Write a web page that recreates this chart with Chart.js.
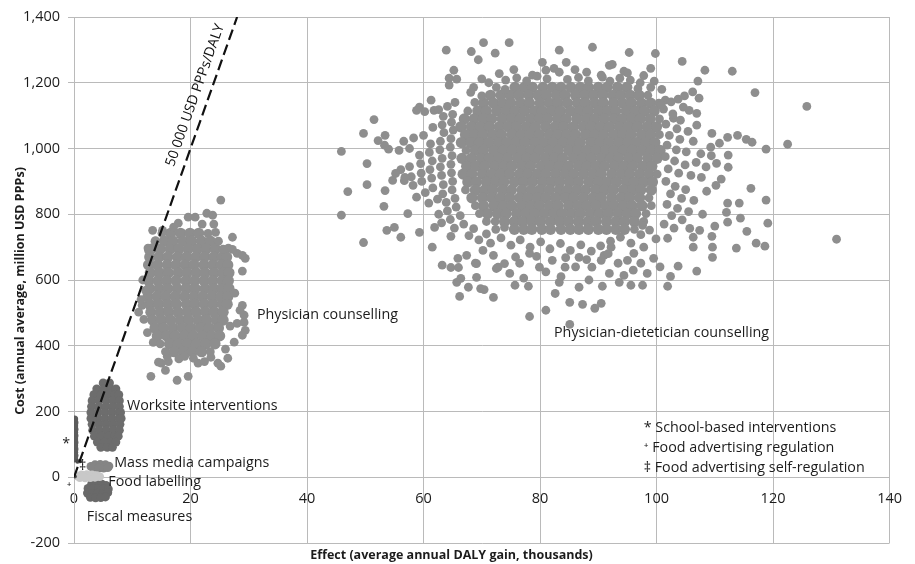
<!DOCTYPE html>
<html>
<head>
<meta charset="utf-8">
<script src="https://cdn.jsdelivr.net/npm/chart.js@4.4.0/dist/chart.umd.min.js"></script>
<style>
  html, body { margin: 0; padding: 0; background: #fff; }
  #wrap { width: 915px; height: 564px; position: relative; }
</style>
</head>
<body>
<div id="wrap"><canvas id="chartCea"></canvas></div>
<script>
// Effect in thousand DALYs per year, cost in million USD PPPs per year.
// Dense clouds are kept as rows: [cost, effect, effect, ...]; loose points as [effect, cost].

const effectAxis = { min: 0, max: 140, step: 20 };
const costAxis = { min: -200, max: 1400, step: 200 };

// willingness-to-pay threshold, USD PPPs per DALY
const wtpPerDaly = 50000;
const wtpEffect = [0, 28];

const dieteticianRows = [
  [1186, 75.7,77.3,78.7,80.5,82.1,83.6,85.3,86.9,88.3,90.0,91.5,93.3,94.9],
  [1162, 71.5,73.3,74.9,76.4,78.1,79.7,81.1,82.8,84.3,86.1,87.7,89.2,90.8,92.5,93.9,95.5,97.0],
  [1138, 70.3,72.0,73.6,75.0,76.7,78.2,80.0,81.6,83.1,84.7,86.4,87.8,89.4,90.9,92.6,94.2,95.7,97.4,99.0],
  [1114, 69.3,70.8,72.6,74.2,75.7,77.3,79.0,80.4,82.0,83.5,85.2,86.8,88.3,90.0,91.6,93.0,94.8,96.4,97.9,99.6],
  [1090, 67.0,68.7,70.3,71.7,73.5,75.1,76.6,78.3,79.9,81.3,83.0,84.5,86.3,87.9,89.4,91.0,92.7,94.1,95.7,97.2,98.9],
  [1066, 66.4,68.2,69.8,71.3,73.0,74.6,76.0,77.7,79.2,81.0,82.6,84.1,85.7,87.4,88.8,90.4,91.9,93.6,95.2,96.7,98.4,100.0],
  [1042, 67.2,68.8,70.2,71.9,73.4,75.2,76.8,78.3,79.9,81.6,83.0,84.6,86.1,87.8,89.4,90.9,92.6,94.2,95.6,97.4,99.0],
  [1018, 66.5,68.1,69.6,71.2,72.9,74.3,75.9,77.4,79.1,80.7,82.2,83.9,85.5,86.9,88.7,90.3,91.8,93.5,95.1,96.5,98.2,99.7],
  [994, 68.9,70.3,72.1,73.7,75.2,76.9,78.5,79.9,81.6,83.1,84.9,86.5,88.0,89.6,91.3,92.7,94.3,95.8,97.5,99.1,100.6],
  [970, 66.6,68.2,69.9,71.3,72.9,74.4,76.1,77.7,79.2,80.9,82.5,83.9,85.7,87.3,88.8,90.5,92.1,93.5,95.2,96.7,98.5,100.1],
  [946, 67.4,69.0,70.5,72.2,73.8,75.2,76.9,78.4,80.2,81.8,83.3,84.9,86.6,88.0,89.6,91.1,92.8,94.4,95.9,97.6,99.2],
  [922, 66.8,68.3,70.1,71.7,73.2,74.8,76.5,77.9,79.5,81.0,82.7,84.3,85.8,87.5,89.1,90.5,92.3,93.9,95.4,97.1,98.7],
  [898, 67.6,69.1,70.8,72.4,73.8,75.6,77.2,78.7,80.4,82.0,83.4,85.1,86.6,88.4,90.0,91.5,93.1,94.8,96.2,97.8,99.3],
  [874, 68.9,70.5,71.9,73.6,75.1,76.9,78.5,80.0,81.6,83.3,84.7,86.3,87.8,89.5,91.1,92.6,94.3,95.9,97.3,99.1],
  [850, 68.3,70.1,71.7,73.2,74.8,76.5,77.9,79.5,81.0,82.7,84.3,85.8,87.5,89.1,90.5,92.3,93.9,95.4,97.1],
  [826, 70.3,72.1,73.7,75.2,76.9,78.5,79.9,81.6,83.1,84.9,86.5,88.0,89.6,91.3,92.7,94.3,95.8,97.5],
  [802, 71.0,72.7,74.2,76.0,77.6,79.1,80.7,82.4,83.8,85.4,86.9,88.6,90.2,91.7,93.4,95.0,96.4],
  [778, 73.9,75.6,77.0,78.6,80.1,81.8,83.4,84.9,86.6,88.2,89.6,91.4,93.0,94.5,96.2],
  [754, 75.6,77.2,78.6,80.3,81.8,83.6,85.2,86.7,88.3,90.0,91.4,93.0,94.5]
];

const dieteticianSpread = [
  // upper fringe
  [63.9,1299],[68.2,1295],[70.3,1322],[72.3,1290],[74.7,1322],[69.4,1270],[83.3,1299],[89.0,1308],[95.3,1292],[99.8,1289],
  [104.4,1265],[108.3,1238],[113.0,1235],[99.0,1244],[94.4,1235],[92.4,1256],[90.7,1217],[107.1,1205],[116.9,1170],[125.8,1128],
  [65.2,1238],[64.4,1214],[65.7,1211],[64.4,1193],[68.6,1186],[68.1,1171],[78.7,1223],[80.4,1262],[81.0,1238],[82.4,1244],
  [83.3,1232],[90.5,1223],[91.9,1253],[74.1,1208],[76.0,1215],[77.7,1206],[79.5,1220],[81.2,1212],[84.7,1210],[86.6,1216],
  [88.3,1206],[92.0,1205],[93.7,1214],[95.5,1208],[97.2,1200],[71.2,1200],[86.0,1240],[88.0,1232],[95.0,1230],[97.8,1222],
  [75.5,1240],[73.0,1228],[84.5,1262],[70.0,1212],[99.6,1205],[100.9,1180],[99.0,1186],[72.5,1186],[74.0,1180],[96.8,1182],
  [98.5,1162],[70.0,1160],[68.8,1140],[100.4,1138],
  // left wing
  [61.3,1147],[59.3,1126],[61.8,1116],[58.8,1116],[65.4,1140],[64.1,1128],[62.6,1118],[65.0,1104],[63.4,1098],[60.2,1112],
  [64.8,1080],[63.2,1072],[61.6,1064],[65.1,1056],[63.5,1048],[60.0,1040],[58.3,1032],[56.6,1022],[64.7,1030],[62.9,1022],
  [61.2,1014],[57.6,1000],[55.8,994],[54.0,998],[53.3,1010],[64.6,1004],[62.8,996],[61.0,988],[59.3,980],[64.9,978],
  [63.2,970],[61.5,962],[59.5,954],[57.6,945],[56.1,936],[55.2,924],[64.7,952],[62.9,944],[61.1,936],[59.6,925],
  [57.9,914],[56.7,902],[64.8,926],[63.1,918],[61.4,910],[59.7,900],[58.2,888],[65.0,900],[63.4,890],[61.6,880],
  [60.3,866],[58.8,852],[64.9,874],[63.3,862],[62.4,846],[60.9,834],[65.4,848],[63.9,836],[64.1,810],[62.6,800],
  [65.6,822],[66.3,796],[64.6,784],[63.1,774],[61.9,760],[66.9,770],[65.3,758],[59.3,745],[57.3,802],[55.0,760],
  [53.7,751],[56.1,730],[61.5,700],[64.7,733],[53.4,872],[54.7,903],[56.8,912],[53.2,824],[51.5,1088],[49.7,1046],
  [52.2,1024],[53.4,1040],[45.9,991],[50.3,954],[47.0,869],[50.3,890],[45.9,797],[49.7,714],[67.6,1114],[67.3,994],
  [67.2,874],[68.9,826],[69.6,802],[70.8,778],
  // right wing
  [101.5,1147],[103.7,1150],[107.3,1153],[104.6,1126],[105.6,1116],[106.9,1107],[102.9,1092],[106.9,1071],[109.5,1046],[112.2,1034],
  [113.9,1040],[115.4,1028],[116.4,1019],[118.8,998],[122.5,1013],[112.3,980],[110.3,955],[112.3,943],[111.1,907],[116.2,879],
  [118.8,843],[114.2,834],[112.2,834],[112.0,806],[114.4,788],[119.1,773],[112.2,776],[115.5,748],[110.0,764],[109.5,733],
  [105.7,757],[107.4,751],[106.3,730],[117.1,712],[118.6,703],[113.7,697],[109.6,700],[109.6,669],[106.3,700],[101.9,727],
  [103.7,642],[106.9,627],[102.4,611],[130.9,724],
  [101.2,1120],[102.8,1105],[104.1,1086],[101.6,1074],[103.5,1060],[105.4,1052],[102.2,1040],[104.0,1028],[106.3,1022],[101.8,1010],
  [103.4,996],[105.1,990],[107.6,984],[109.4,978],[101.5,975],[103.1,962],[104.9,950],[106.8,958],[108.5,944],[102.0,938],
  [103.8,925],[105.9,918],[107.7,912],[101.6,900],[103.2,885],[105.0,875],[102.4,862],[104.3,848],[106.4,842],[101.8,830],
  [103.6,818],[105.5,808],[107.9,800],[102.6,796],[104.4,783],[101.3,770],[103.0,758],[108.6,870],[110.2,888],[109.3,1004],
  [110.8,1016],[100.8,1132],[102.5,1142],[104.8,1160],[106.2,1172],[100.5,1090],[100.5,1042],[100.1,922],[98.7,850],[99.1,826],
  [98.2,802],[97.8,778],
  // lower fringe
  [63.2,645],[64.7,638],[66.0,638],[67.4,675],[69.1,650],[72.5,635],[72.0,675],[74.8,620],[65.7,593],[66.2,550],
  [67.7,578],[69.8,574],[70.4,571],[72.0,547],[75.7,584],[78.0,581],[78.2,489],[81.0,508],[82.6,559],[83.3,593],
  [85.1,532],[86.7,578],[87.3,526],[85.1,465],[89.4,514],[90.5,529],[90.7,581],[95.6,584],[97.6,584],[101.9,581],
  [93.6,593],[65.9,666],[68.9,651],[72.8,639],[76.5,651],[78.2,681],[79.9,639],[82.1,660],[84.3,639],[86.7,669],
  [88.9,639],[90.5,660],[69.1,608],[66.4,605],[91.0,675],[93.4,651],[94.4,614],[97.3,651],[99.5,666],[96.1,681],
  [92.2,700],[97.8,700],[67.8,735],[69.5,722],[70.8,740],[71.5,712],[73.3,728],[75.0,706],[76.6,722],[78.3,700],
  [80.1,716],[81.7,695],[83.5,711],[85.2,690],[87.0,707],[88.8,688],[90.4,704],[92.1,718],[93.8,730],[95.6,712],
  [97.3,738],[98.8,752],[99.9,725],[68.6,756],[97.6,766],[84.4,668],[88.0,662],[79.4,672],[91.7,680],[75.8,670],
  [70.2,690],[73.9,650],[95.0,660],[86.1,640],[81.0,625],[77.2,606],[91.9,620],[83.6,610],[88.4,600],[98.4,620],
  [100.6,640],[96.0,630],[72.4,754],[73.9,760],[96.2,754],[72.3,778]
];

const physicianRows = [
  [742, 16.6,18.3,19.9,21.4],
  [718, 15.5,17.0,18.7,20.2,21.9,23.4],
  [694, 13.3,14.8,16.5,18.0,19.6,21.2,22.7,24.3],
  [670, 13.0,14.6,16.1,17.8,19.3,20.9,22.4,24.0,25.5,26.2],
  [646, 12.8,14.3,16.0,17.5,19.1,20.6,22.3,23.8,25.3,26.4],
  [622, 13.1,14.7,16.2,17.9,19.4,21.0,22.5,24.1,25.6,26.6],
  [598, 12.8,14.4,15.9,17.5,19.2,20.7,22.3,23.8,25.4,26.5],
  [574, 13.0,14.6,16.1,17.7,19.3,20.8,22.5,24.0,25.5,26.6],
  [550, 12.7,14.3,15.8,17.4,19.0,20.6,22.1,23.7,25.2,26.4],
  [526, 13.0,14.5,16.1,17.6,19.3,20.8,22.4,23.9,25.5,26.3],
  [502, 13.2,14.8,16.3,17.9,19.5,21.0,22.6,24.1,25.6],
  [478, 13.5,15.0,16.6,18.2,19.7,21.3,22.8,24.4,25.6],
  [454, 13.9,15.4,17.0,18.6,20.1,21.7,23.2,24.8],
  [430, 14.3,15.9,17.4,19.0,20.5,22.1,23.6,25.0],
  [406, 16.4,17.9,19.5,21.0,22.6,24.2],
  [382, 17.2,18.8,20.3,21.9]
];

const physicianSpread = [
  [25.2,843],[22.8,803],[23.8,797],[19.6,791],[20.8,791],[17.9,773],[17.1,761],[13.5,751],[15.2,751],[12.7,697],
  [26.5,697],[28.0,681],[29.4,666],[24.3,745],[27.2,693],[28.9,675],[28.9,627],[12.8,690],[11.7,523],[11.1,502],
  [12.3,568],[11.8,600],[28.9,523],[29.2,493],[29.2,471],[29.4,447],[28.9,432],[28.5,508],[28.0,468],[27.5,411],
  [13.2,307],[17.7,295],[19.6,307],[15.0,347],[16.2,352],[21.3,347],[22.4,352],[25.2,338],[26.4,362],[14.5,350],
  [15.7,325],[24.7,347],[11.5,540],[12.0,480],[26.8,460],[27.6,560],[22.0,770],[24.0,770],[16.0,368],[18.0,360],
  [13.6,410],[12.6,440],[26.0,390],[23.5,365],[27.2,730],[14.0,720],[19.0,368],[20.5,362],[15.1,742],[23.0,742],
  [13.9,718],[24.8,718],[25.6,694],[14.8,406],[15.7,382],[23.4,382]
];

const worksiteRows = [
  [287, 5.0,6.1],
  [269, 3.9,5.1,6.3,7.2],
  [251, 3.4,4.6,5.8,7.0,7.7],
  [233, 3.1,4.3,5.5,6.7,7.8],
  [215, 3.0,4.2,5.4,6.6,7.8],
  [197, 2.9,4.1,5.3,6.5,7.7,8.0],
  [179, 2.9,4.1,5.3,6.5,7.7,8.1],
  [161, 3.1,4.3,5.5,6.7,7.9],
  [143, 3.2,4.4,5.6,6.8,7.8],
  [125, 3.5,4.7,5.9,7.0,7.6],
  [107, 4.0,5.2,6.3,7.2],
  [91, 4.6,5.7,6.6]
];

const schoolPoints = [
  [0.1,56],[0.15,66],[0.1,76],[0.15,86],[0.1,96],[0.15,106],[0.1,116],
  [0.15,126],[0.1,136],[0.15,146],[0.1,156],[0.15,166],[0.1,177]
];

const massMediaPoints = [
  [2.9,33],[3.6,38],[4.5,39],[5.4,38],[6.0,34],[3.3,29],[4.2,28],[5.1,28],[5.8,29]
];

const foodLabelPoints = [
  [0.5,4],[1.3,7],[2.2,8],[3.1,7],[3.9,5],[4.4,2],[1.0,-1],[1.9,-2],[2.8,-1],[3.6,0]
];

const fiscalPoints = [
  [3.0,-22],[3.9,-20],[4.8,-21],[5.5,-25],[2.4,-34],[3.3,-35],[4.2,-34],[5.1,-35],[5.9,-36],
  [2.3,-48],[3.2,-49],[4.1,-48],[5.0,-49],[5.8,-47],[2.8,-61],[3.7,-63],[4.6,-62],[5.4,-60]
];

const adSelfRegPoints = [[0.6,48],[1.0,49]];
const adRegPoints = [[0.15,2]];

const clusterLabels = [
  { text: 'Physician counselling', x: 31.4, y: 493 },
  { text: 'Physician-dietetician counselling', x: 82.4, y: 438 },
  { text: 'Worksite interventions', x: 9.1, y: 216 },
  { text: 'Mass media campaigns', x: 6.9, y: 43 },
  { text: 'Food labelling', x: 5.9, y: -15 },
  { text: 'Fiscal measures', x: 2.2, y: -122 }
];

const symbolLabels = [
  { text: '*', x: -1.35, y: 100 },
  { text: '\u207A', x: -0.85, y: -30 },
  { text: '\u2021', x: 1.5, y: 33 }
];

const keyLines = [
  '* School-based interventions',
  '\u207A Food advertising regulation',
  '\u2021 Food advertising self-regulation'
];
const keyAt = { x: 97.8, y: [149, 88, 27] };

const wtpLabelAt = { x: 20.8, y: 1162 };

// --- helpers ---
const fromRows = rows => rows.flatMap(([y, ...xs]) => xs.map(x => ({ x, y })));
const toPts = list => list.map(([x, y]) => ({ x, y }));
const wtpLine = wtpEffect.map(e => ({ x: e, y: e * 1000 * wtpPerDaly / 1e6 }));

const fontFamily = "'Open Sans', 'DejaVu Sans', sans-serif";
const gridColor = '#bababa';
const inkColor = '#1c1c1c';
const cloudGray = '#8e8e8e';

// the packed rows sit under the loose dots, a larger dot keeps the mass closed
const cloud = (label, data, color, radius = 4.4) => ({
  label, data, backgroundColor: color, borderWidth: 0, pointBorderWidth: 0,
  pointRadius: radius, pointHoverRadius: radius
});

const labelsPlugin = {
  id: 'ceaLabels',
  afterDatasetsDraw(chart) {
    const { ctx, chartArea, scales: { x, y } } = chart;
    ctx.save();
    ctx.fillStyle = inkColor;
    ctx.textBaseline = 'middle';

    ctx.font = `14.3px ${fontFamily}`;
    ctx.textAlign = 'left';
    clusterLabels.forEach(l => ctx.fillText(l.text, x.getPixelForValue(l.x), y.getPixelForValue(l.y)));
    keyLines.forEach((t, i) => ctx.fillText(t, x.getPixelForValue(keyAt.x), y.getPixelForValue(keyAt.y[i])));

    ctx.textAlign = 'center';
    symbolLabels.forEach(l => ctx.fillText(l.text, x.getPixelForValue(l.x), y.getPixelForValue(l.y)));

    // threshold label runs along the dashed line
    const p0 = wtpLine[0], p1 = wtpLine[wtpLine.length - 1];
    const angle = Math.atan2(
      y.getPixelForValue(p1.y) - y.getPixelForValue(p0.y),
      x.getPixelForValue(p1.x) - x.getPixelForValue(p0.x)
    );
    ctx.save();
    ctx.translate(x.getPixelForValue(wtpLabelAt.x), y.getPixelForValue(wtpLabelAt.y));
    ctx.rotate(angle);
    ctx.font = `14px ${fontFamily}`;
    ctx.fillStyle = '#111';
    ctx.fillText('50 000 USD PPPs/DALY', 0, 0);
    ctx.restore();

    // cost axis title, sits a little below the middle of the plot
    ctx.save();
    ctx.translate(20, (chartArea.top + chartArea.bottom) / 2 + 11);
    ctx.rotate(-Math.PI / 2);
    ctx.font = `bold 12.5px ${fontFamily}`;
    ctx.fillText('Cost (annual average, million USD PPPs)', 0, 0);
    ctx.restore();

    ctx.restore();
  }
};

new Chart(document.getElementById('chartCea'), {
  type: 'scatter',
  data: {
    datasets: [
      {
        label: '50 000 USD PPPs/DALY', data: wtpLine, showLine: true,
        borderColor: '#111', borderWidth: 2.2, borderDash: [11, 5], pointRadius: 0, fill: false
      },
      cloud('Food advertising self-regulation', toPts(adSelfRegPoints), '#4a4a4a', 2.2),
      cloud('Food advertising regulation', toPts(adRegPoints), '#4a4a4a', 2),
      cloud('Food labelling', toPts(foodLabelPoints), '#c8c8c8'),
      cloud('Mass media campaigns', toPts(massMediaPoints), '#858585'),
      cloud('Fiscal measures', toPts(fiscalPoints), '#696969'),
      cloud('School-based interventions', toPts(schoolPoints), '#5c5c5c', 3.6),
      cloud('Worksite interventions', fromRows(worksiteRows), '#6d6d6d'),
      cloud('Physician counselling', toPts(physicianSpread), cloudGray),
      cloud('Physician counselling (core)', fromRows(physicianRows), cloudGray, 5.6),
      cloud('Physician-dietetician counselling', toPts(dieteticianSpread), cloudGray),
      cloud('Physician-dietetician counselling (core)', fromRows(dieteticianRows), cloudGray, 5.6)
    ]
  },
  options: {
    responsive: true,
    maintainAspectRatio: false,
    animation: false,
    events: [],
    layout: { padding: { top: 17, right: 12, bottom: 1.5, left: 0 } },
    plugins: {
      legend: { display: false },
      tooltip: { enabled: false },
      title: {
        display: true,
        position: 'bottom',
        text: 'Effect (average annual DALY gain, thousands)',
        color: inkColor,
        font: { family: fontFamily, size: 12.5, weight: 'bold' },
        padding: { top: 4.5, bottom: 0 }
      }
    },
    scales: {
      x: {
        type: 'linear',
        min: effectAxis.min, max: effectAxis.max,
        position: { y: 0 },
        ticks: { stepSize: effectAxis.step, padding: 13, color: inkColor, font: { family: fontFamily, size: 14.5 } },
        grid: { color: gridColor, drawTicks: false },
        border: { color: gridColor }
      },
      y: {
        min: costAxis.min, max: costAxis.max,
        ticks: {
          stepSize: costAxis.step, padding: 8, color: inkColor,
          font: { family: fontFamily, size: 14.5 },
          callback: v => v.toLocaleString('en-US')
        },
        grid: { color: gridColor, tickLength: 6 },
        border: { color: gridColor },
        afterFit(scale) { scale.width = 74; }
      }
    }
  },
  plugins: [labelsPlugin]
});
</script>
</body>
</html>
